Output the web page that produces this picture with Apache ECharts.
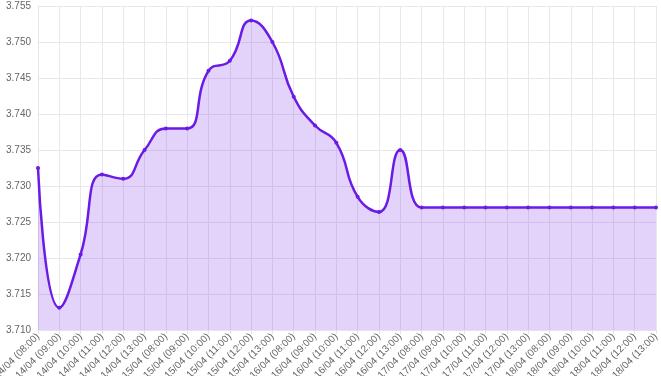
<!DOCTYPE html>
<html>
<head>
<meta charset="utf-8">
<script src="https://cdn.jsdelivr.net/npm/echarts@6/dist/echarts.min.js"></script>
<style>
html,body{margin:0;padding:0;background:#fff;}
#chart{width:661px;height:376px;}
</style>
</head>
<body>
<div id="chart"></div>
<script>
const categories = [
  "14/04 (08:00)","14/04 (09:00)","14/04 (10:00)","14/04 (11:00)","14/04 (12:00)","14/04 (13:00)",
  "15/04 (08:00)","15/04 (09:00)","15/04 (10:00)","15/04 (11:00)","15/04 (12:00)","15/04 (13:00)",
  "16/04 (08:00)","16/04 (09:00)","16/04 (10:00)","16/04 (11:00)","16/04 (12:00)","16/04 (13:00)",
  "17/04 (08:00)","17/04 (09:00)","17/04 (10:00)","17/04 (11:00)","17/04 (12:00)","17/04 (13:00)",
  "18/04 (08:00)","18/04 (09:00)","18/04 (10:00)","18/04 (11:00)","18/04 (12:00)","18/04 (13:00)"
];
const values = [
  3.7325, 3.7131, 3.7205, 3.7316, 3.7310, 3.7350,
  3.7380, 3.7380, 3.7460, 3.7474, 3.7530, 3.7500,
  3.7424, 3.7384, 3.7360, 3.7285, 3.7264, 3.7350,
  3.7270, 3.7270, 3.7270, 3.7270, 3.7270, 3.7270,
  3.7270, 3.7270, 3.7270, 3.7270, 3.7270, 3.7270
];
const yMin = 3.710, yMax = 3.755, yStep = 0.005;

const chart = echarts.init(document.getElementById('chart'));
chart.setOption({
  animation: false,
  grid: {left: 38, right: 5, top: 6, bottom: 46, containLabel: false, outerBoundsMode: 'none'},
  xAxis: {
    type: 'category',
    data: categories,
    boundaryGap: false,
    axisLine: {show: true, lineStyle: {color: '#e4e4e4'}},
    axisTick: {show: true, length: 4, lineStyle: {color: '#e4e4e4'}},
    axisLabel: {rotate: 45, interval: 0, fontSize: 10, color: '#666', fontFamily: 'Helvetica, Arial, sans-serif', margin: 5},
    splitLine: {show: true, lineStyle: {color: '#e8e8e8'}}
  },
  yAxis: {
    type: 'value',
    min: yMin, max: yMax, interval: yStep,
    axisLine: {show: true, lineStyle: {color: '#e4e4e4'}},
    axisTick: {show: false},
    axisLabel: {fontSize: 10, color: '#666', fontFamily: 'Helvetica, Arial, sans-serif', margin: 7,
      formatter: v => v.toFixed(3)},
    splitLine: {show: true, lineStyle: {color: '#e8e8e8'}}
  },
  series: [{
    type: 'line',
    data: values,
    smooth: 0.5,
    symbol: 'circle',
    symbolSize: 4,
    showSymbol: true,
    itemStyle: {color: '#6a1be6'},
    lineStyle: {color: '#6a1be6', width: 2.5},
    areaStyle: {color: 'rgba(124, 48, 235, 0.3)', origin: 'start'}
  }]
});
</script>
</body>
</html>
